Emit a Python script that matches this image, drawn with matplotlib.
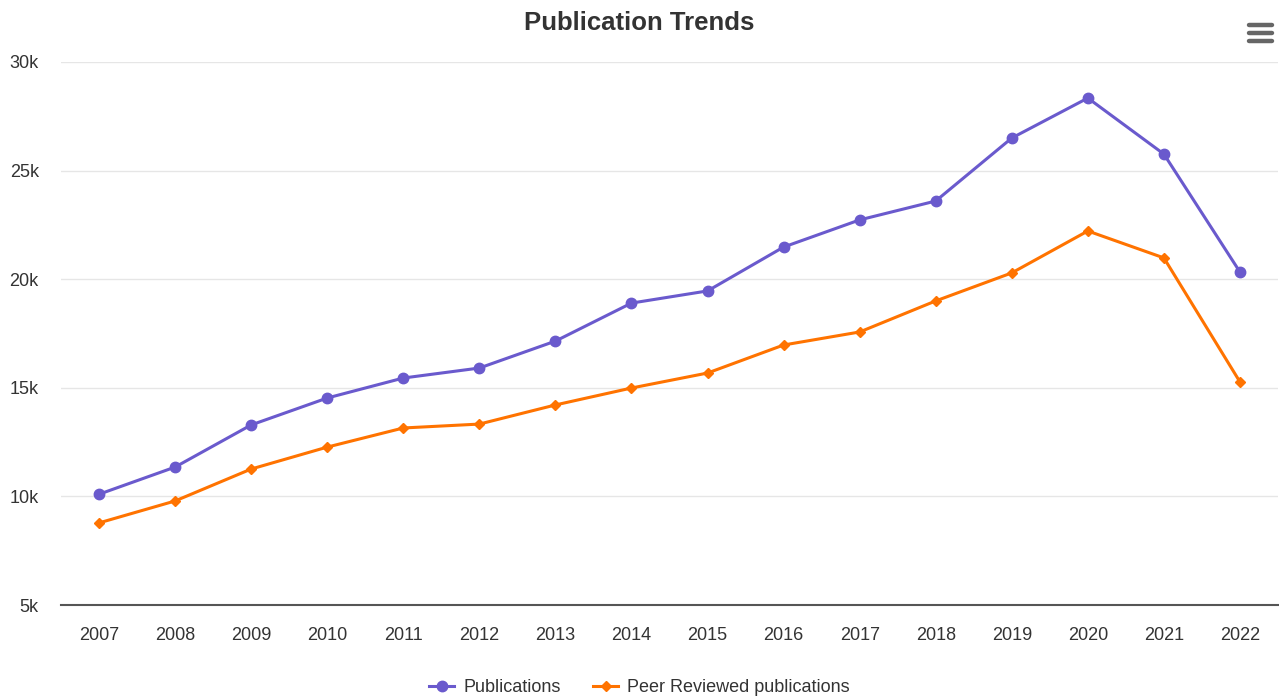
import matplotlib.pyplot as plt
from matplotlib.lines import Line2D

years = [str(y) for y in range(2007, 2023)]
publications = [10100, 11350, 13290, 14530, 15450, 15910, 17150, 18900,
                19460, 21480, 22730, 23600, 26500, 28340, 25760, 20330]
peer_reviewed = [8780, 9790, 11260, 12270, 13150, 13330, 14210, 14990,
                 15680, 16970, 17570, 19000, 20290, 22220, 20980, 15270]
y_ticks = [5000, 10000, 15000, 20000, 25000, 30000]
y_labels = ["5k", "10k", "15k", "20k", "25k", "30k"]

purple = "#6a5acd"
orange = "#ff7300"
text_col = "#333333"

plt.rcParams['font.family'] = ['Liberation Sans', 'DejaVu Sans']

fig = plt.figure(figsize=(12.79, 6.98), dpi=100)
ax = fig.add_axes([61 / 1279, 93 / 698, 1217 / 1279, 543 / 698])

x = range(len(years))
ax.plot(x, publications, color=purple, lw=2.2, marker="o", ms=7.5,
        label="Publications", zorder=3)
ax.plot(x, peer_reviewed, color=orange, lw=2.2, marker="D", ms=5.5,
        label="Peer Reviewed publications", zorder=3)

ax.set_xlim(-0.5, len(years) - 0.5)
ax.set_ylim(5000, 30000)
ax.set_xticks(list(x))
ax.set_xticklabels(years)
ax.set_yticks(y_ticks)
ax.set_yticklabels(y_labels)
ax.tick_params(axis="both", length=0, labelsize=13, labelcolor=text_col)
ax.tick_params(axis="x", pad=16)
ax.tick_params(axis="y", pad=16)
for lbl in ax.get_yticklabels():
    lbl.set_horizontalalignment("right")

ax.grid(axis="y", color="#e6e6e6", lw=1)
ax.set_axisbelow(True)
for s in ["top", "right", "left"]:
    ax.spines[s].set_visible(False)
ax.spines["bottom"].set_color("#555555")
ax.spines["bottom"].set_linewidth(1.5)

fig.text(0.5, 1 - 23 / 698, "Publication Trends", ha="center", va="center",
         fontsize=18.5, fontweight="bold", color=text_col)

handles = [Line2D([], [], color=purple, lw=2.2, marker="o", ms=7.5),
           Line2D([], [], color=orange, lw=2.2, marker="D", ms=5.5)]
fig.legend(handles, ["Publications", "Peer Reviewed publications"],
           loc="center", bbox_to_anchor=(0.5, 1 - 688 / 698), ncol=2,
           frameon=False, fontsize=13, handlelength=1.4, columnspacing=1.8,
           handletextpad=0.5, labelcolor=text_col)

# menu icon (three bars)
for yy in [25, 33, 41]:
    fig.add_artist(Line2D([1249 / 1279, 1272 / 1279], [1 - yy / 698] * 2,
                          color="#666666", lw=3.2, solid_capstyle="round"))

fig.savefig("out.png", dpi=100)
